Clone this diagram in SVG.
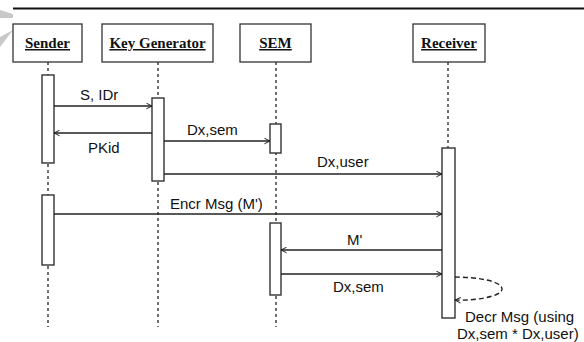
<svg xmlns="http://www.w3.org/2000/svg" width="584" height="342" viewBox="0 0 584 342">
<defs>
<marker id="arr" viewBox="0 0 10 10" refX="9" refY="5" markerWidth="7" markerHeight="7" orient="auto-start-reverse" markerUnits="userSpaceOnUse">
<path d="M1,1 L9,5 L1,9" fill="none" stroke="#222" stroke-width="1.4"/>
</marker>
</defs>
<style>
.hdr{fill:#fff;stroke:#333;stroke-width:1.3}
.ht{font-family:"Liberation Serif",serif;font-weight:bold;font-size:15px;text-decoration:underline;fill:#111}
.life{stroke:#333;stroke-width:1.4;stroke-dasharray:3,3}
.act{fill:#fff;stroke:#333;stroke-width:1.4}
.msg{stroke:#222;stroke-width:1.4;fill:none;marker-end:url(#arr)}
.lbl{font-family:"Liberation Sans",Arial,sans-serif;font-size:15px;fill:#111}
</style>
<rect width="584" height="342" fill="#fff"/>
<polygon points="0,10 13,14 13,18 0,18" fill="#c8c8c8"/>
<polygon points="0,37 13,30 0,47" fill="#c8c8c8"/>
<line x1="13" y1="8.5" x2="584" y2="8.5" stroke="#111" stroke-width="2"/>
<g id="sender">
<rect class="hdr" x="13" y="24" width="69" height="38"/>
<text class="ht" x="47.5" y="48" text-anchor="middle">Sender</text>
<line class="life" x1="48" y1="62" x2="48" y2="327"/>
<rect class="act" x="42" y="75" width="12" height="88"/>
<rect class="act" x="42" y="195" width="12" height="70"/>
</g>
<g id="keygen">
<rect class="hdr" x="102" y="24" width="111" height="38"/>
<text class="ht" x="157.5" y="48" text-anchor="middle">Key Generator</text>
<line class="life" x1="158" y1="62" x2="158" y2="327"/>
<rect class="act" x="152" y="98" width="12" height="83"/>
</g>
<g id="sem">
<rect class="hdr" x="240" y="24" width="71" height="38"/>
<text class="ht" x="275.5" y="48" text-anchor="middle">SEM</text>
<line class="life" x1="276" y1="62" x2="276" y2="327"/>
<rect class="act" x="270" y="124" width="11" height="29"/>
<rect class="act" x="270" y="223" width="11" height="72"/>
</g>
<g id="receiver">
<rect class="hdr" x="413" y="24" width="72" height="38"/>
<text class="ht" x="449" y="48" text-anchor="middle">Receiver</text>
<line class="life" x1="448" y1="62" x2="448" y2="148"/>
<rect class="act" x="442" y="148" width="13" height="170"/>
</g>
<g id="connectors">
<line class="msg" x1="54" y1="106" x2="152" y2="106"/>
<text class="lbl" x="80" y="100">S, IDr</text>
<line class="msg" x1="152" y1="133" x2="54" y2="133"/>
<text class="lbl" x="88" y="153">PKid</text>
<line class="msg" x1="164" y1="141" x2="270" y2="141"/>
<text class="lbl" x="187" y="135">Dx,sem</text>
<line class="msg" x1="164" y1="174" x2="442" y2="174"/>
<text class="lbl" x="317" y="167">Dx,user</text>
<line class="msg" x1="54" y1="214" x2="442" y2="214"/>
<text class="lbl" x="170" y="209">Encr Msg (M')</text>
<line class="msg" x1="442" y1="250" x2="281" y2="250"/>
<text class="lbl" x="347" y="245">M'</text>
<line class="msg" x1="281" y1="274" x2="442" y2="274"/>
<text class="lbl" x="333" y="292">Dx,sem</text>
<path class="msg" d="M455,277 C472,277 502,280 502,289 C502,297 472,301 455,300" stroke-dasharray="5,3"/>
<text class="lbl" x="465" y="322">Decr Msg (using</text>
<text class="lbl" x="457" y="339">Dx,sem * Dx,user)</text>
</g>
</svg>
